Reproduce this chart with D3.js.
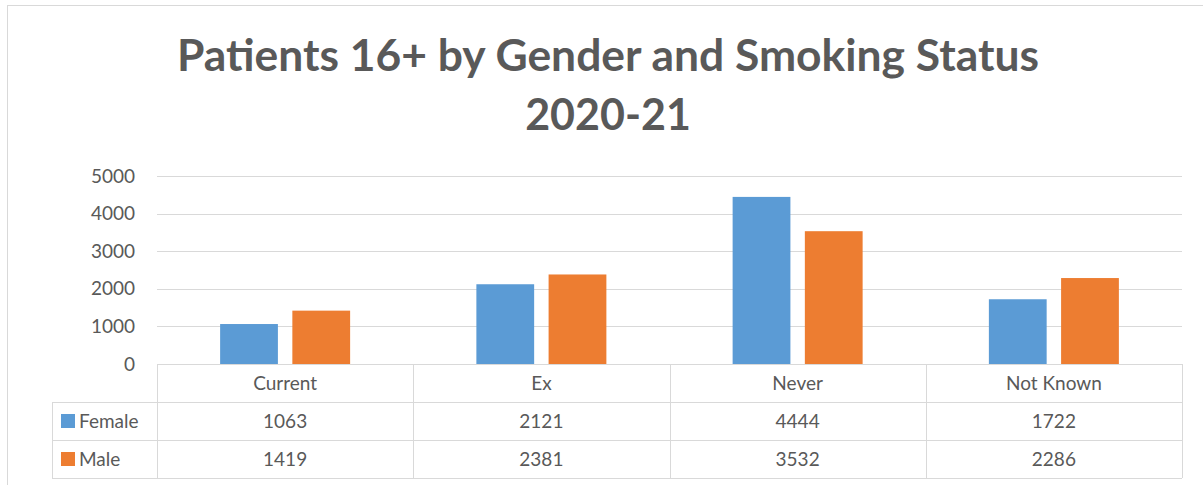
<!DOCTYPE html>
<html>
<head>
<meta charset="utf-8">
<script src="https://cdn.jsdelivr.net/npm/d3@7"></script>
<style>
  body { margin: 0; background: #fff; }
  svg text { font-family: Lato, "Open Sans", sans-serif; fill: #595959; }
</style>
</head>
<body>
<div id="chart"></div>
<script>
// data
const categories = ["Current", "Ex", "Never", "Not Known"];
const seriesNames = ["Female", "Male"];
const female = [1063, 2121, 4444, 1722];
const male = [1419, 2381, 3532, 2286];
const yTicks = [0, 1000, 2000, 3000, 4000, 5000];
const colors = ["#5B9BD5", "#ED7D31"];

const W = 1203, H = 485;
const margin = { top: 176, left: 157, right: 21 };
const plotBottom = 364;
const rowH = 38;
const legendLeft = 52;

const svg = d3.select("#chart").append("svg")
    .attr("width", W)
    .attr("height", H);

// chart frame
svg.append("rect")
    .attr("x", 7.5).attr("y", 5.5)
    .attr("width", W + 10).attr("height", H + 10)
    .attr("fill", "none")
    .attr("stroke", "#D9D9D9");

// title
svg.append("text")
    .attr("x", 608).attr("y", 71)
    .attr("text-anchor", "middle")
    .style("font-size", "43px").style("font-weight", "bold")
    .attr("textLength", 862).attr("lengthAdjust", "spacingAndGlyphs")
    .text("Patients 16+ by Gender and Smoking Status");
svg.append("text")
    .attr("x", 608).attr("y", 130)
    .attr("text-anchor", "middle")
    .style("font-size", "43px").style("font-weight", "bold")
    .text("2020-21");

const x = d3.scaleBand()
    .domain(categories)
    .range([margin.left, W - margin.right]);

const y = d3.scaleLinear()
    .domain([0, 5000])
    .range([plotBottom, margin.top]);

const xSub = d3.scaleBand()
    .domain(seriesNames)
    .range([0, 130])
    .paddingInner(0.2);

// gridlines
svg.append("g")
    .selectAll("line")
    .data(yTicks.filter(d => d > 0))
    .join("line")
    .attr("x1", x.range()[0]).attr("x2", x.range()[1])
    .attr("y1", d => Math.round(y(d)) + 0.5)
    .attr("y2", d => Math.round(y(d)) + 0.5)
    .attr("stroke", "#D9D9D9");

// y axis labels
const yAxis = svg.append("g")
    .attr("transform", "translate(" + (margin.left - 22) + ",0)")
    .call(d3.axisLeft(y).tickValues(yTicks).tickFormat(d3.format("d")).tickSize(0).tickPadding(0));
yAxis.select(".domain").remove();
yAxis.selectAll("text")
    .style("font-size", "19px")
    .attr("fill", null)
    .style("fill", "#595959");

// bars
const series = [female, male];
const groups = svg.append("g")
    .selectAll("g")
    .data(categories)
    .join("g")
    .attr("transform", d => "translate(" + (x(d) + (x.bandwidth() - 130) / 2) + ",0)");

groups.selectAll("rect")
    .data((d, i) => seriesNames.map((s, j) => ({ s: s, v: series[j][i], c: colors[j] })))
    .join("rect")
    .attr("x", d => xSub(d.s))
    .attr("width", xSub.bandwidth())
    .attr("y", d => y(d.v))
    .attr("height", d => y(0) - y(d.v))
    .attr("fill", d => d.c);

// data table
const table = svg.append("g").attr("stroke", "#D9D9D9").attr("fill", "none");
const xr = x.range();
// horizontal lines
table.append("line")
    .attr("x1", xr[0]).attr("x2", xr[1])
    .attr("y1", plotBottom + 0.5).attr("y2", plotBottom + 0.5);
[1, 2, 3].forEach(r => {
    table.append("line")
        .attr("x1", legendLeft).attr("x2", xr[1])
        .attr("y1", plotBottom + r * rowH + 0.5).attr("y2", plotBottom + r * rowH + 0.5);
});
// vertical lines
categories.forEach(c => {
    table.append("line")
        .attr("x1", Math.round(x(c)) + 0.5).attr("x2", Math.round(x(c)) + 0.5)
        .attr("y1", plotBottom).attr("y2", plotBottom + 3 * rowH);
});
table.append("line")
    .attr("x1", xr[1] + 0.5).attr("x2", xr[1] + 0.5)
    .attr("y1", plotBottom).attr("y2", plotBottom + 3 * rowH);
table.append("line")
    .attr("x1", legendLeft + 0.5).attr("x2", legendLeft + 0.5)
    .attr("y1", plotBottom + rowH).attr("y2", plotBottom + 3 * rowH);

// header labels
svg.append("g")
    .selectAll("text")
    .data(categories)
    .join("text")
    .attr("x", d => x(d) + x.bandwidth() / 2)
    .attr("y", plotBottom + rowH / 2)
    .attr("dy", "0.35em")
    .attr("text-anchor", "middle")
    .style("font-size", "19px")
    .text(d => d);

// value rows
series.forEach((vals, j) => {
    const rowY = plotBottom + (j + 1) * rowH;
    svg.append("rect")
        .attr("x", legendLeft + 9).attr("y", rowY + 12)
        .attr("width", 14).attr("height", 14)
        .attr("fill", colors[j]);
    svg.append("text")
        .attr("x", legendLeft + 27).attr("y", rowY + rowH / 2)
        .attr("dy", "0.35em")
        .style("font-size", "19px")
        .text(seriesNames[j]);
    svg.append("g")
        .selectAll("text")
        .data(categories)
        .join("text")
        .attr("x", d => x(d) + x.bandwidth() / 2)
        .attr("y", rowY + rowH / 2)
        .attr("dy", "0.35em")
        .attr("text-anchor", "middle")
        .style("font-size", "19px")
        .text((d, i) => vals[i]);
});
</script>
</body>
</html>
